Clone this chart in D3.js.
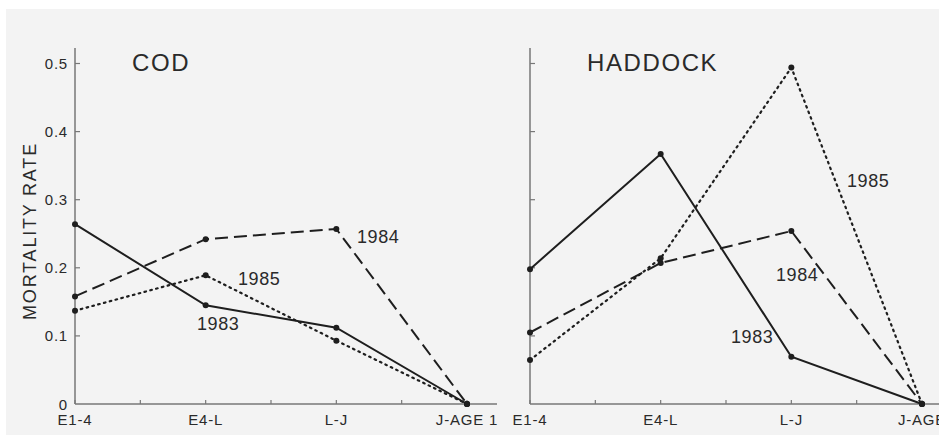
<!DOCTYPE html>
<html><head><meta charset="utf-8">
<script src="https://cdn.jsdelivr.net/npm/d3@7"></script>
<style>
html,body{margin:0;padding:0;background:#fff;}
svg{display:block;}
text{font-family:"Liberation Sans",Arial,Helvetica,sans-serif;fill:#2a2a2a;}
</style></head>
<body>
<script>
const stages = ["E1-4","E4-L","L-J","J-AGE 1"];
const stagesHaddock = ["E1-4","E4-L","L-J","J-AGE"];
const yTicks = [0,0.1,0.2,0.3,0.4,0.5];
const yTickLabels = ["0","0.1","0.2","0.3","0.4","0.5"];
const years = ["1983","1984","1985"];
const cod1983 = [0.264,0.145,0.112,0];
const cod1984 = [0.158,0.242,0.257,0];
const cod1985 = [0.137,0.189,0.093,0];
const had1983 = [0.198,0.367,0.0695,0];
const had1984 = [0.105,0.207,0.254,0];
const had1985 = [0.0646,0.214,0.494,0];

const W=939,H=435;
const svg=d3.select("body").append("svg").attr("width",W).attr("height",H);
svg.append("rect").attr("x",6).attr("y",9).attr("width",W-6).attr("height",H-9).attr("fill","#f3f3f3");

const y=d3.scaleLinear().domain([0,0.5]).range([404,63.5]);
const dashes={"1983":null,"1984":"13,6","1985":"1.6,4.4"};
const ink="#1e1e1e";

function panel(x0,title,cats,series,labels,showYLabels,axisEnd){
  const x=d3.scalePoint().domain(cats).range([x0,x0+392]);
  const g=svg.append("g");
  // y axis line
  g.append("line").attr("x1",x0).attr("x2",x0).attr("y1",48).attr("y2",y(0)).attr("stroke","#777").attr("stroke-width",1.5);
  // y ticks inward
  g.selectAll(".yt").data(yTicks.slice(1)).enter().append("line")
    .attr("x1",x0).attr("x2",x0+5).attr("y1",d=>y(d)).attr("y2",d=>y(d)).attr("stroke","#777").attr("stroke-width",1.2);
  if(showYLabels){
    g.selectAll(".yl").data(yTicks).enter().append("text")
      .attr("x",x0-7).attr("y",d=>y(d)+5.5).attr("text-anchor","end")
      .attr("font-size",15).attr("letter-spacing",0.8).attr("fill","#555").text((d,i)=>yTickLabels[i]);
  }
  // x axis
  g.append("line").attr("x1",x0).attr("x2",axisEnd).attr("y1",y(0)).attr("y2",y(0)).attr("stroke","#777").attr("stroke-width",1.5);
  const step=x.step();
  const tickPos=[];
  cats.forEach((c,i)=>{tickPos.push(x(c)); if(i<cats.length-1) tickPos.push(x(c)+step/2);});
  g.selectAll(".xt").data(tickPos).enter().append("line")
    .attr("x1",d=>d).attr("x2",d=>d).attr("y1",y(0)).attr("y2",y(0)-4).attr("stroke","#777").attr("stroke-width",1.2);
  g.selectAll(".xl").data(cats).enter().append("text")
    .attr("x",d=>x(d)).attr("y",425).attr("text-anchor","middle")
    .attr("font-size",15).attr("letter-spacing",0.8).attr("fill","#444").text(d=>d);
  // title
  g.append("text").attr("x",x0+57).attr("y",71).attr("font-size",24).attr("letter-spacing",1.6).attr("fill","#222").text(title);
  // lines
  const line=d3.line().x((d,i)=>x(cats[i])).y(d=>y(d));
  years.forEach((yr,k)=>{
    const vals=series[k];
    g.append("path").attr("d",line(vals)).attr("fill","none").attr("stroke",ink)
      .attr("stroke-width",yr==="1985"?2.2:2).attr("stroke-dasharray",dashes[yr])
      .attr("stroke-linecap",yr==="1985"?"round":"butt");
    g.selectAll(".p"+yr).data(vals).enter().append("circle")
      .attr("cx",(d,i)=>x(cats[i])).attr("cy",d=>y(d)).attr("r",3).attr("fill",ink);
  });
  labels.forEach(l=>{
    g.append("text").attr("x",l[1]).attr("y",l[2]).attr("font-size",18).attr("letter-spacing",0.6).attr("fill","#2a2a2a").text(l[0]);
  });
}

panel(75,"COD",stages,[cod1983,cod1984,cod1985],
  [["1984",357,243],["1985",238,285],["1983",197,330]],true,497);
panel(530,"HADDOCK",stagesHaddock,[had1983,had1984,had1985],
  [["1985",847,187],["1984",776,281],["1983",731,343]],false,W);

// y axis title
svg.append("text").attr("transform","translate(36,231) rotate(-90)").attr("text-anchor","middle")
  .attr("font-size",18).attr("letter-spacing",1.8).attr("fill","#444").text("MORTALITY RATE");
</script>
</body></html>
